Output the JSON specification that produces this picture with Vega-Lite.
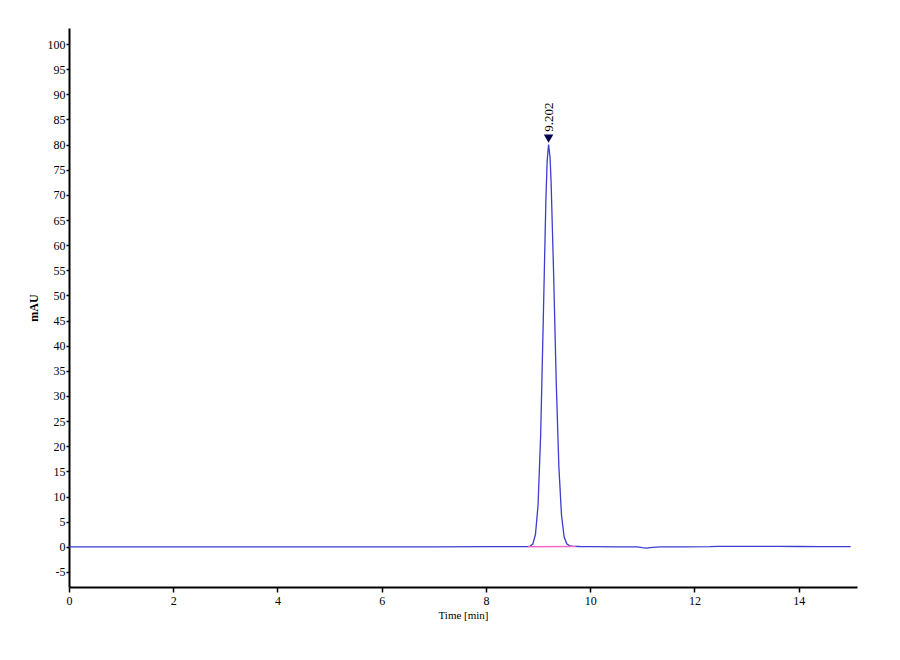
{
  "$schema": "https://vega.github.io/schema/vega-lite/v6.json",
  "description": "Chromatogram, single peak at 9.202 min",
  "autosize": {"type": "none"},
  "width": 788,
  "height": 559,
  "padding": {"left": 69, "top": 28, "right": 43, "bottom": 73},
  "background": "white",
  "config": {
    "view": {"stroke": null},
    "font": "Liberation Serif",
    "axis": {
      "grid": false,
      "domainColor": "black",
      "domainWidth": 2,
      "tickColor": "black",
      "tickWidth": 1.5,
      "labelFont": "Liberation Serif",
      "labelFontSize": 12,
      "labelColor": "black",
      "labelOverlap": false,
      "labelBound": false,
      "labelFlush": false,
      "titleFont": "Liberation Serif",
      "titleColor": "black"
    }
  },
  "datasets": {
    "signal": [
      {"t": 0.0, "mAU": 0.0}, {"t": 1.0, "mAU": 0.0}, {"t": 2.0, "mAU": 0.0},
      {"t": 3.0, "mAU": 0.0}, {"t": 4.0, "mAU": 0.0}, {"t": 5.0, "mAU": 0.0},
      {"t": 6.0, "mAU": 0.0}, {"t": 7.0, "mAU": 0.0}, {"t": 8.0, "mAU": 0.02},
      {"t": 8.5, "mAU": 0.02}, {"t": 8.75, "mAU": 0.03},
      {"t": 8.8, "mAU": 0.05}, {"t": 8.85, "mAU": 0.15}, {"t": 8.9, "mAU": 0.55},
      {"t": 8.95, "mAU": 2.4}, {"t": 9.0, "mAU": 8.3}, {"t": 9.05, "mAU": 22.2},
      {"t": 9.1, "mAU": 45.0}, {"t": 9.15, "mAU": 68.9}, {"t": 9.175, "mAU": 76.8},
      {"t": 9.202, "mAU": 80.0}, {"t": 9.23, "mAU": 77.5}, {"t": 9.25, "mAU": 72.7},
      {"t": 9.3, "mAU": 53.8}, {"t": 9.35, "mAU": 32.4}, {"t": 9.4, "mAU": 15.8},
      {"t": 9.45, "mAU": 6.3}, {"t": 9.5, "mAU": 2.0}, {"t": 9.55, "mAU": 0.6},
      {"t": 9.6, "mAU": 0.25}, {"t": 9.65, "mAU": 0.15}, {"t": 9.7, "mAU": 0.1},
      {"t": 9.8, "mAU": 0.06}, {"t": 10.0, "mAU": 0.03}, {"t": 10.5, "mAU": 0.0},
      {"t": 10.9, "mAU": -0.03}, {"t": 11.0, "mAU": -0.18}, {"t": 11.08, "mAU": -0.25},
      {"t": 11.2, "mAU": -0.12}, {"t": 11.35, "mAU": -0.03}, {"t": 11.8, "mAU": 0.0},
      {"t": 12.3, "mAU": 0.02}, {"t": 12.45, "mAU": 0.08}, {"t": 12.8, "mAU": 0.1},
      {"t": 13.2, "mAU": 0.08}, {"t": 13.6, "mAU": 0.07}, {"t": 14.0, "mAU": 0.06},
      {"t": 14.4, "mAU": 0.05}, {"t": 15.0, "mAU": 0.04}
    ],
    "baseline": [
      {"t": 8.81, "mAU": 0.02}, {"t": 9.72, "mAU": 0.04}
    ],
    "peaks": [
      {"t": 9.202, "mAU": 80.0, "label": "9.202"}
    ]
  },
  "layer": [
    {
      "data": {"name": "signal"},
      "mark": {"type": "line", "color": "#3d3dcf", "strokeWidth": 1.3},
      "encoding": {
        "x": {
          "field": "t",
          "type": "quantitative",
          "title": "Time [min]",
          "scale": {"domain": [0, 15.12], "nice": false, "zero": false},
          "axis": {
            "values": [0, 2, 4, 6, 8, 10, 12, 14],
            "tickCount": 20,
            "labelExpr": "toString(datum.value)",
            "tickSize": 5,
            "labelPadding": 3,
            "titleFontSize": 11,
            "titleFontWeight": "normal",
            "titlePadding": 3
          }
        },
        "y": {
          "field": "mAU",
          "type": "quantitative",
          "title": "mAU",
          "scale": {"domain": [-8, 103.2], "nice": false, "zero": false},
          "axis": {
            "values": [-5, 0, 5, 10, 15, 20, 25, 30, 35, 40, 45, 50, 55, 60, 65, 70, 75, 80, 85, 90, 95, 100],
            "tickCount": 40,
            "labelOverlap": false,
            "labelExpr": "toString(datum.value)",
            "tickSize": 3,
            "labelPadding": 1,
            "titleFontSize": 12,
            "titleFontWeight": "bold",
            "titlePadding": 7
          }
        }
      }
    },
    {
      "data": {"name": "baseline"},
      "mark": {"type": "line", "color": "#f06ac8", "strokeWidth": 1.5},
      "encoding": {
        "x": {"field": "t", "type": "quantitative"},
        "y": {"field": "mAU", "type": "quantitative"}
      }
    },
    {
      "data": {"name": "peaks"},
      "mark": {"type": "point", "shape": "triangle-down", "filled": true, "color": "#000050", "opacity": 1, "size": 90, "yOffset": -6},
      "encoding": {
        "x": {"field": "t", "type": "quantitative"},
        "y": {"field": "mAU", "type": "quantitative"}
      }
    },
    {
      "data": {"name": "peaks"},
      "mark": {"type": "text", "angle": 270, "align": "left", "baseline": "middle", "fontSize": 13, "color": "black", "yOffset": -13, "font": "Liberation Serif"},
      "encoding": {
        "x": {"field": "t", "type": "quantitative"},
        "y": {"field": "mAU", "type": "quantitative"},
        "text": {"field": "label"}
      }
    }
  ]
}
